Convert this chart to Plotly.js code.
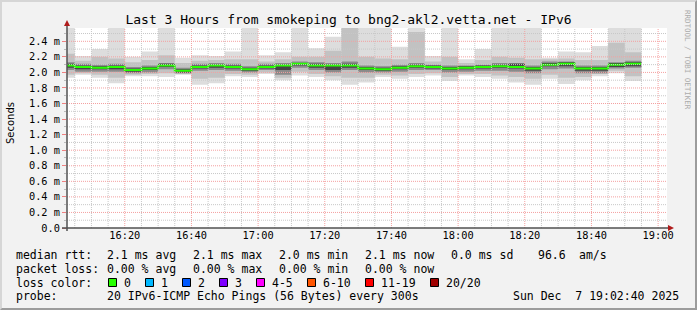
<!DOCTYPE html>
<html><head><meta charset="utf-8">
<script src="https://cdn.plot.ly/plotly-3.0.1.min.js"></script>
<style>
html,body{margin:0;padding:0;background:#f2f2f2;}
#wrap{position:relative;width:697px;height:310px;overflow:hidden;}
#chart{width:697px;height:310px;}
#bevel{position:absolute;left:0;top:0;width:697px;height:310px;box-sizing:border-box;border-top:2px solid #d6d6d6;border-left:2px solid #d6d6d6;border-right:2px solid #9c9c9c;border-bottom:2px solid #9c9c9c;pointer-events:none;}
</style></head><body>
<div id="wrap"><div id="chart"></div><div id="bevel"></div></div>
<script>
// ---------------- data ----------------
const DAY = '2025-12-07';
const stepStarts = ['16:00','16:05','16:10','16:15','16:20','16:25','16:30','16:35','16:40','16:45',
  '16:50','16:55','17:00','17:05','17:10','17:15','17:20','17:25','17:30','17:35',
  '17:40','17:45','17:50','17:55','18:00','18:05','18:10','18:15','18:20','18:25',
  '18:30','18:35','18:40','18:45','18:50'];
const stepMinutes = 5;
// median rtt (ms)
const medianRtt = [2.09,2.07,2.06,2.07,2.03, 2.05,2.09,2.02,2.07,2.09, 2.07,2.04,2.07,2.09,2.11,
  2.09,2.09,2.09,2.05,2.04, 2.06,2.08,2.07,2.05,2.06, 2.07,2.08,2.07,2.05,2.10, 2.11,2.05,2.05,2.10,2.11];
// smoke bands (ms): outermost = max/min ping
const pingMax = [2.74,2.21,2.30,2.83,2.20, 2.27,2.69,2.19,2.22,2.21, 2.27,2.90,2.22,2.26,2.77,
  2.31,2.46,2.86,2.72,2.68, 2.33,2.81,2.21,2.75,2.17, 2.30,2.70,2.79,2.66,2.19, 2.27,2.26,2.34,2.88,2.73];
const pingMin = [1.93,1.97,1.93,1.86,1.95, 1.95,1.94,1.97,1.84,1.86, 1.95,1.94,1.98,1.90,1.96,
  1.94,1.90,1.84,1.87,1.94, 1.92,1.94,1.96,1.89,1.96, 1.94,1.92,1.87,1.84,1.92, 1.85,1.90,1.95,1.99,1.89];
const bandBHi = [2.24,2.15,2.20,2.18,2.13, 2.16,2.22,2.12,2.15,2.16, 2.17,2.17,2.14,2.17,2.20,
  2.20,2.28,2.62,2.20,2.18, 2.17,2.52,2.14,2.20,2.12, 2.16,2.20,2.19,2.17,2.17, 2.18,2.16,2.16,2.38,2.26];
const bandBLo = [1.97,1.99,1.97,1.93,1.97, 1.98,1.99,1.98,1.92,1.93, 1.98,1.97,2.00,1.93,2.01,
  1.98,1.95,1.93,1.93,1.97, 1.96,1.98,1.99,1.94,1.98, 1.98,1.96,1.94,1.92,1.97, 1.93,1.94,1.98,2.02,1.95];
const bandCHi = [2.13,2.11,2.10,2.11,2.07, 2.09,2.12,2.06,2.11,2.12, 2.11,2.08,2.11,2.12,2.14,
  2.13,2.12,2.14,2.09,2.08, 2.10,2.12,2.10,2.09,2.09, 2.10,2.12,2.12,2.09,2.14, 2.14,2.09,2.09,2.13,2.15];
const bandCLo = [2.03,2.01,2.01,2.01,1.99, 2.00,2.04,1.99,2.02,2.03, 2.02,2.00,2.03,1.97,2.06,
  2.03,2.00,2.03,2.00,2.00, 2.01,2.03,2.03,2.00,2.01, 2.02,2.02,2.01,1.99,2.04, 2.05,1.99,1.99,2.05,2.06];
const bandDHi = [2.11,2.09,2.08,2.09,2.05, 2.07,2.11,2.04,2.09,2.10, 2.09,2.06,2.09,2.10,2.12,
  2.11,2.10,2.11,2.07,2.06, 2.08,2.10,2.09,2.07,2.08, 2.09,2.10,2.11,2.07,2.12, 2.13,2.07,2.07,2.12,2.13];
const bandDLo = [2.06,2.04,2.04,2.04,2.01, 2.03,2.07,2.00,2.05,2.06, 2.05,2.02,2.05,2.03,2.09,
  2.06,2.03,2.06,2.03,2.02, 2.04,2.06,2.05,2.03,2.04, 2.05,2.06,2.05,2.02,2.08, 2.08,2.02,2.02,2.07,2.08];

const yTickVals = [0,0.2,0.4,0.6,0.8,1.0,1.2,1.4,1.6,1.8,2.0,2.2,2.4];
const yTickText = ['0.0','0.2 m','0.4 m','0.6 m','0.8 m','1.0 m','1.2 m','1.4 m','1.6 m','1.8 m','2.0 m','2.2 m','2.4 m'];
const xTickText = ['16:20','16:40','17:00','17:20','17:40','18:00','18:20','18:40','19:00'];
const windowStart = '16:02:40', windowEnd = '19:02:40';

const titleText = 'Last 3 Hours from smokeping to bng2-akl2.vetta.net - IPv6';
const rttLabel = 'median rtt:';
const rttStats = ['2.1 ms avg','2.1 ms max','2.0 ms min','2.1 ms now','0.0 ms sd','96.6','am/s'];
const lossLabel = 'packet loss:';
const lossStats = ['0.00 % avg','0.00 % max','0.00 % min','0.00 % now'];
const colorLabel = 'loss color:';
const lossLabels = ['0','1','2','3','4-5','6-10','11-19','20/20'];
const lossColors = ['#26ff00','#00b8ff','#0059ff','#7e00ff','#ff00ff','#ff5500','#ff0000','#a00000'];
const probeLabel = 'probe:';
const probeText = '20 IPv6-ICMP Echo Pings (56 Bytes) every 300s';
const stampText = 'Sun Dec  7 19:02:40 2025';
const watermark = 'RRDTOOL / TOBI OETIKER';

// ---------------- helpers ----------------
const MONO = 'DejaVu Sans Mono';
const L = 67, T = 28, W = 600, H = 200;
const px = x => (x - L) / W;
const py = y => (T + H - y) / H;
const nb = s => s.replace(/ /g, '\u00a0');
function addMin(hhmm, m) {
  const [h, mm] = hhmm.split(':').map(Number);
  const t = h * 60 + mm + m;
  return String(Math.floor(t / 60)).padStart(2, '0') + ':' + String(t % 60).padStart(2, '0');
}
const edges = stepStarts.concat([addMin(stepStarts[stepStarts.length - 1], stepMinutes)]).map(t => DAY + ' ' + t);
const stepY = v => v.concat([v[v.length - 1]]);

const traces = [];
function band(lo, hi, color) {
  traces.push({x: edges, y: stepY(lo), type: 'scatter', mode: 'lines', line: {width: 0, shape: 'hv'}, hoverinfo: 'skip', showlegend: false});
  traces.push({x: edges, y: stepY(hi), type: 'scatter', mode: 'lines', line: {width: 0, shape: 'hv'}, fill: 'tonexty', fillcolor: color, hoverinfo: 'skip', showlegend: false});
}
band(pingMin, pingMax, '#dddddd');
band(bandBLo, bandBHi, '#c2c2c2');
band(bandCLo, bandCHi, '#8a8a8a');
band(bandDLo, bandDHi, '#454545');
traces.push({x: edges, y: stepY(medianRtt), type: 'scatter', mode: 'lines', line: {width: 2, color: lossColors[0], shape: 'hv'}, showlegend: false});

// ---------------- grid (drawn above the smoke like rrdtool) ----------------
const shapes = [];
const startMin = 16 * 60 + 5, endMin = 19 * 60;
for (let m = startMin; m <= endMin; m += 5) {
  const t = DAY + ' ' + String(Math.floor(m / 60)).padStart(2, '0') + ':' + String(m % 60).padStart(2, '0');
  const major = m % 20 === 0;
  shapes.push({type: 'line', xref: 'x', yref: 'paper', x0: t, x1: t, y0: 0, y1: 1, layer: 'above',
    line: {color: major ? '#f4a0a0' : '#c8c8c8', width: 1, dash: '1px,1px'}});
}
for (let k = 1; k <= 25; k++) {
  const v = k / 10, major = k % 2 === 0;
  shapes.push({type: 'line', xref: 'paper', yref: 'y', x0: 0, x1: 1, y0: v, y1: v, layer: 'above',
    line: {color: major ? '#f4a0a0' : '#c8c8c8', width: 1, dash: '1px,1px'}});
}
// axes + arrows
shapes.push({type: 'line', xref: 'paper', yref: 'paper', x0: 0, x1: 0, y0: py(231), y1: py(25), layer: 'above', line: {color: '#505050', width: 1.5}});
shapes.push({type: 'line', xref: 'paper', yref: 'paper', x0: px(62), x1: px(669), y0: 0, y1: 0, layer: 'above', line: {color: '#505050', width: 1.5}});
shapes.push({type: 'path', xref: 'paper', yref: 'paper', layer: 'above',
  path: `M ${px(64)} ${py(26)} L ${px(70)} ${py(26)} L ${px(67)} ${py(20)} Z`, fillcolor: '#b01c1c', line: {width: 0}});
shapes.push({type: 'path', xref: 'paper', yref: 'paper', layer: 'above',
  path: `M ${px(668)} ${py(225)} L ${px(668)} ${py(231)} L ${px(674)} ${py(228)} Z`, fillcolor: '#b01c1c', line: {width: 0}});

// ---------------- legend text ----------------
const ann = [];
const lineY = [255, 268.5, 282.5, 296];
const fs = 11.5;
function txt(s, x, y, extra) {
  ann.push(Object.assign({text: nb(s), xref: 'paper', yref: 'paper', x: px(x - 1), y: py(y), xanchor: 'left', yanchor: 'middle',
    showarrow: false, borderpad: 0, font: {family: MONO, size: fs, color: '#000'}}, extra || {}));
}
const rttX = [107.3, 193.3, 279.3, 365, 451, 537.7, 579.3];
txt(rttLabel, 16, lineY[0]);
rttStats.forEach((s, i) => txt(s, rttX[i], lineY[0]));
txt(lossLabel, 16, lineY[1]);
lossStats.forEach((s, i) => txt(s, rttX[i], lineY[1]));
txt(colorLabel, 16, lineY[2]);
const boxX = [108.5, 145.5, 182.5, 219.5, 256.5, 307.5, 365.5, 430.5];
lossLabels.forEach((s, i) => {
  shapes.push({type: 'rect', xref: 'paper', yref: 'paper', x0: px(boxX[i]), x1: px(boxX[i] + 8), y0: py(278.5), y1: py(286.5),
    fillcolor: lossColors[i], line: {color: '#000', width: 1}, layer: 'above'});
  txt(s, boxX[i] + 15, lineY[2]);
});
txt(probeLabel, 16, lineY[3]);
txt(probeText, 107.3, lineY[3]);
txt(stampText, 513.3, lineY[3]);

ann.push({text: 'Seconds', xref: 'paper', yref: 'paper', x: px(10), y: py(123), textangle: -90, showarrow: false,
  xanchor: 'center', yanchor: 'middle', font: {family: 'DejaVu Sans', size: 10, color: '#000'}});
ann.push({text: nb(watermark), xref: 'paper', yref: 'paper', x: px(688), y: py(60), textangle: 90, showarrow: false,
  xanchor: 'center', yanchor: 'middle', font: {family: MONO, size: 7.5, color: '#ababab'}});

const layout = {
  width: 697, height: 310,
  margin: {l: L, r: 697 - L - W, t: T, b: 310 - T - H, pad: 0},
  paper_bgcolor: '#f2f2f2', plot_bgcolor: '#ffffff',
  title: {text: titleText, font: {family: MONO, size: 13, color: '#000'}, xref: 'container', x: 0.5, xanchor: 'center',
    yref: 'container', y: 1 - 19 / 310, yanchor: 'middle'},
  xaxis: {type: 'date', range: [DAY + ' ' + windowStart, DAY + ' ' + windowEnd], tickmode: 'array',
    tickvals: xTickText.map(t => DAY + ' ' + t), ticktext: xTickText, showgrid: false, zeroline: false, showline: false,
    ticks: '', tickfont: {family: MONO, size: 10.3, color: '#000'}, fixedrange: true},
  yaxis: {range: [0, 2.571], tickmode: 'array', tickvals: yTickVals, ticktext: yTickText, showgrid: false, zeroline: false,
    showline: false, ticks: 'outside', ticklen: 4, tickcolor: '#f08080', tickwidth: 1,
    minor: {ticks: 'outside', ticklen: 2, tickcolor: '#bbbbbb', dtick: 0.1, tick0: 0, showgrid: false},
    tickfont: {family: MONO, size: 10.3, color: '#000'}, fixedrange: true},
  shapes: shapes, annotations: ann, showlegend: false
};
Plotly.newPlot('chart', traces, layout, {staticPlot: true, displayModeBar: false});
</script></body></html>
